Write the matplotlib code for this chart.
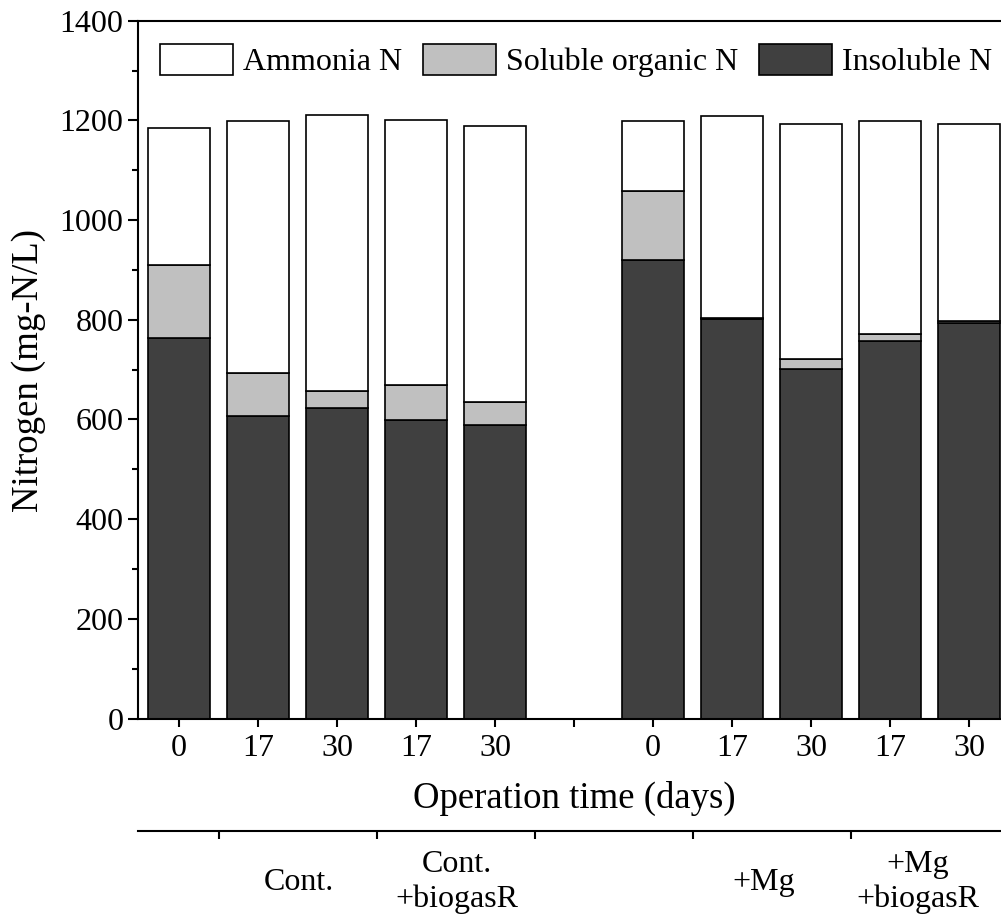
import matplotlib.pyplot as plt
from matplotlib.ticker import MultipleLocator
from matplotlib.transforms import blended_transform_factory

plt.rcParams['font.family'] = ['Liberation Serif', 'DejaVu Serif']

# data (mg-N/L)
positions = [0, 1, 2, 3, 4, 6, 7, 8, 9, 10]
insoluble = [763, 607, 623, 599, 588, 920, 802, 701, 758, 794]
soluble = [146, 87, 34, 71, 47, 138, 2, 20, 14, 4]
ammonia = [275, 505, 554, 530, 554, 140, 404, 472, 426, 394]

tick_pos = list(range(11))
tick_labels = ['0', '17', '30', '17', '30', '', '0', '17', '30', '17', '30']
group_ticks = [0.5, 2.5, 4.5, 6.5, 8.5]
group_pos = [1.52, 3.52, 7.4, 9.35]
group_labels = ['Cont.', 'Cont.\n+biogasR', '+Mg', '+Mg\n+biogasR']

fig = plt.figure(figsize=(10.01, 9.22), dpi=100)
left, bottom, width, height = 0.1379, 0.2207, 0.8777, 0.7568
ax = fig.add_axes([left, bottom, width, height])

w = 0.78
ec = dict(edgecolor='black', linewidth=1.2)
b1 = ax.bar(positions, insoluble, w, color='#404040', label='Insoluble N', **ec)
bot2 = insoluble
b2 = ax.bar(positions, soluble, w, bottom=bot2, color='#c0c0c0', label='Soluble organic N', **ec)
bot3 = [a + b for a, b in zip(insoluble, soluble)]
b3 = ax.bar(positions, ammonia, w, bottom=bot3, color='white', label='Ammonia N', **ec)

ax.set_xlim(-0.52, 10.6)
ax.set_ylim(0, 1400)
ax.yaxis.set_major_locator(MultipleLocator(200))
ax.yaxis.set_minor_locator(MultipleLocator(100))
ax.set_xticks(tick_pos)
ax.set_xticklabels(tick_labels)
ax.tick_params(axis='both', which='major', labelsize=23, width=1.5, direction='out')
ax.tick_params(axis='y', which='major', length=7, pad=3.5)
ax.tick_params(axis='y', which='minor', length=4, width=1.5)
ax.tick_params(axis='x', which='major', length=6, pad=5.5)
for s in ax.spines.values():
    s.set_linewidth(1.5)
ax.spines['right'].set_visible(False)

fig.text(29 / 1001, 1 - 371 / 922, 'Nitrogen (mg-N/L)', rotation=90,
         ha='center', va='center', fontsize=26.5)
fig.text(574 / 1001, 1 - 798 / 922, 'Operation time (days)',
         ha='center', va='center', fontsize=26.5)

ax.legend(handles=[b3, b2, b1], ncol=3, loc='center left',
          bbox_to_anchor=(0.025, 0.943), frameon=False, fontsize=23,
          borderpad=0, borderaxespad=0, handlelength=2.29, handleheight=1.1,
          handletextpad=0.31, columnspacing=0.65)

# group axis below
ax2 = fig.add_axes([left, 1 - 831 / 922, width, 0.0001])
ax2.set_xlim(ax.get_xlim())
ax2.set_yticks([])
for k in ['top', 'left', 'right']:
    ax2.spines[k].set_visible(False)
ax2.spines['bottom'].set_linewidth(1.5)
ax2.set_xticks(group_ticks)
ax2.set_xticklabels([])
ax2.tick_params(axis='x', length=6, width=1.5, direction='out')
ax2.patch.set_visible(False)
trans = blended_transform_factory(ax2.transData, fig.transFigure)
for xp, lab in zip(group_pos, group_labels):
    ax2.text(xp, 1 - 882 / 922, lab, transform=trans,
             ha='center', va='center', fontsize=23, linespacing=1.25)

plt.savefig('out.png', dpi=100)
plt.close()
